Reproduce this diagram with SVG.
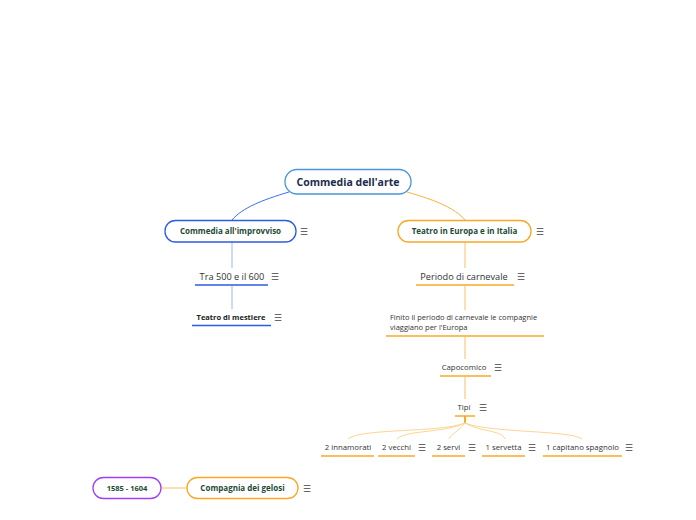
<svg xmlns="http://www.w3.org/2000/svg" width="696" height="520" viewBox="0 0 696 520">
<style>
text{font-family:"Open Sans","Noto Sans","Liberation Sans",sans-serif}
.box{fill:#fff;stroke-width:1.3}
.b{font-weight:bold;fill:#1d4a35;font-size:8px}
.t{fill:#333;font-size:7.8px}
.t9{fill:#333;font-size:9.2px}
.s{fill:#333;font-size:7.5px}
.ic{fill:#444;font-size:9px}
.ul{stroke-width:1.5}
.o{stroke:#f9a826}
.bl{stroke:#2d5be3}
</style>
<rect width="696" height="520" fill="#fff"/>
<g id="connectors" fill="none">
<path d="M289,192 C262,200 242,208 232,220" stroke="#3b6ef0" stroke-width="1"/>
<path d="M407,192 C435,200 455,208 465,220" stroke="#f9b13a" stroke-width="1"/>
<path d="M232,242 V268 M232,286 V309" stroke="#9ab4f2" stroke-width="1"/>
<path d="M465,242 V268 M465,286 V310 M465,337 V359 M465,377 V399" stroke="#fde0b0" stroke-width="2"/>
<path d="M465,416 V423" stroke="#f9a826" stroke-width="2"/>
<path d="M465,423 C440,433 360,428 348,439" stroke="#fcd592" stroke-width="1"/>
<path d="M465,423 C445,433 405,430 397,439" stroke="#fcd592" stroke-width="1"/>
<path d="M465,423 C458,432 452,433 449,439" stroke="#fcd592" stroke-width="1"/>
<path d="M465,423 C480,432 502,430 505,439" stroke="#fcd592" stroke-width="1"/>
<path d="M465,423 C490,433 570,430 582,439" stroke="#fcd592" stroke-width="1"/>
<path d="M161,488 H187" stroke="#fcd592" stroke-width="1.5"/>
</g>
<g id="root">
<rect class="box" x="285" y="169.5" width="126" height="24.5" rx="12" stroke="#4a96d8"/>
<text x="348" y="185.5" text-anchor="middle" font-size="10.5" font-weight="bold" fill="#1c2b4d">Commedia dell'arte</text>
</g>
<g id="improvviso">
<rect class="box" x="165" y="220.5" width="131" height="21.5" rx="10.5" stroke="#2d5be3"/>
<text class="b" x="230.5" y="234" text-anchor="middle">Commedia all'improvviso</text>
<text class="ic" x="304" y="234.5" text-anchor="middle">☰</text>
</g>
<g id="europa">
<rect class="box" x="398" y="220.5" width="133" height="21.5" rx="10.5" stroke="#f9a826"/>
<text class="b" x="464.5" y="234" text-anchor="middle">Teatro in Europa e in Italia</text>
<text class="ic" x="540" y="234.5" text-anchor="middle">☰</text>
</g>
<g id="tra500">
<text class="t9" x="232" y="279.5" text-anchor="middle">Tra 500 e il 600</text>
<line class="ul bl" x1="195" y1="285" x2="268" y2="285"/>
<text class="ic" x="275" y="279.5" text-anchor="middle">☰</text>
</g>
<g id="mestiere">
<text class="b" x="231" y="320" text-anchor="middle" style="fill:#222;font-size:7.5px">Teatro di mestiere</text>
<line class="ul bl" x1="192" y1="325.5" x2="271" y2="325.5"/>
<text class="ic" x="278" y="320.5" text-anchor="middle">☰</text>
</g>
<g id="carnevale">
<text class="t9" x="464" y="279.5" text-anchor="middle">Periodo di carnevale</text>
<line class="ul o" x1="416" y1="285" x2="514" y2="285"/>
<text class="ic" x="521" y="279.5" text-anchor="middle">☰</text>
</g>
<g id="finito">
<text class="s" x="390" y="320">Finito il periodo di carnevale le compagnie</text>
<text class="s" x="390" y="330">viaggiano per l'Europa</text>
<line class="ul o" x1="386" y1="336" x2="544" y2="336"/>
</g>
<g id="capocomico">
<text class="t" x="464" y="370" text-anchor="middle">Capocomico</text>
<line class="ul o" x1="440" y1="376" x2="491" y2="376"/>
<text class="ic" x="498" y="370.5" text-anchor="middle">☰</text>
</g>
<g id="tipi">
<text class="t" x="464" y="410" text-anchor="middle">Tipi</text>
<line class="ul o" x1="455" y1="416" x2="475" y2="416"/>
<text class="ic" x="483" y="410.5" text-anchor="middle">☰</text>
</g>
<g id="innamorati">
<text class="t" x="348" y="450" text-anchor="middle">2 innamorati</text>
<line class="ul o" x1="321" y1="456" x2="374" y2="456"/>
</g>
<g id="vecchi">
<text class="t" x="396.5" y="450" text-anchor="middle">2 vecchi</text>
<line class="ul o" x1="378" y1="456" x2="415" y2="456"/>
<text class="ic" x="422" y="450.5" text-anchor="middle">☰</text>
</g>
<g id="servi">
<text class="t" x="448.5" y="450" text-anchor="middle">2 servi</text>
<line class="ul o" x1="432" y1="456" x2="465" y2="456"/>
<text class="ic" x="472" y="450.5" text-anchor="middle">☰</text>
</g>
<g id="servetta">
<text class="t" x="503.5" y="450" text-anchor="middle">1 servetta</text>
<line class="ul o" x1="482" y1="456" x2="525" y2="456"/>
<text class="ic" x="532" y="450.5" text-anchor="middle">☰</text>
</g>
<g id="capitano">
<text class="t" x="582.5" y="450" text-anchor="middle">1 capitano spagnolo</text>
<line class="ul o" x1="543" y1="456" x2="622" y2="456"/>
<text class="ic" x="629" y="450.5" text-anchor="middle">☰</text>
</g>
<g id="date">
<rect class="box" x="93" y="477.5" width="68" height="21" rx="10.5" stroke="#a23ff5"/>
<text class="b" x="127" y="491" text-anchor="middle" style="font-size:7.5px">1585 - 1604</text>
</g>
<g id="gelosi">
<rect class="box" x="187" y="477.5" width="111" height="21" rx="10.5" stroke="#f9a826"/>
<text class="b" x="242.5" y="491" text-anchor="middle">Compagnia dei gelosi</text>
<text class="ic" x="307" y="491.5" text-anchor="middle">☰</text>
</g>
</svg>
